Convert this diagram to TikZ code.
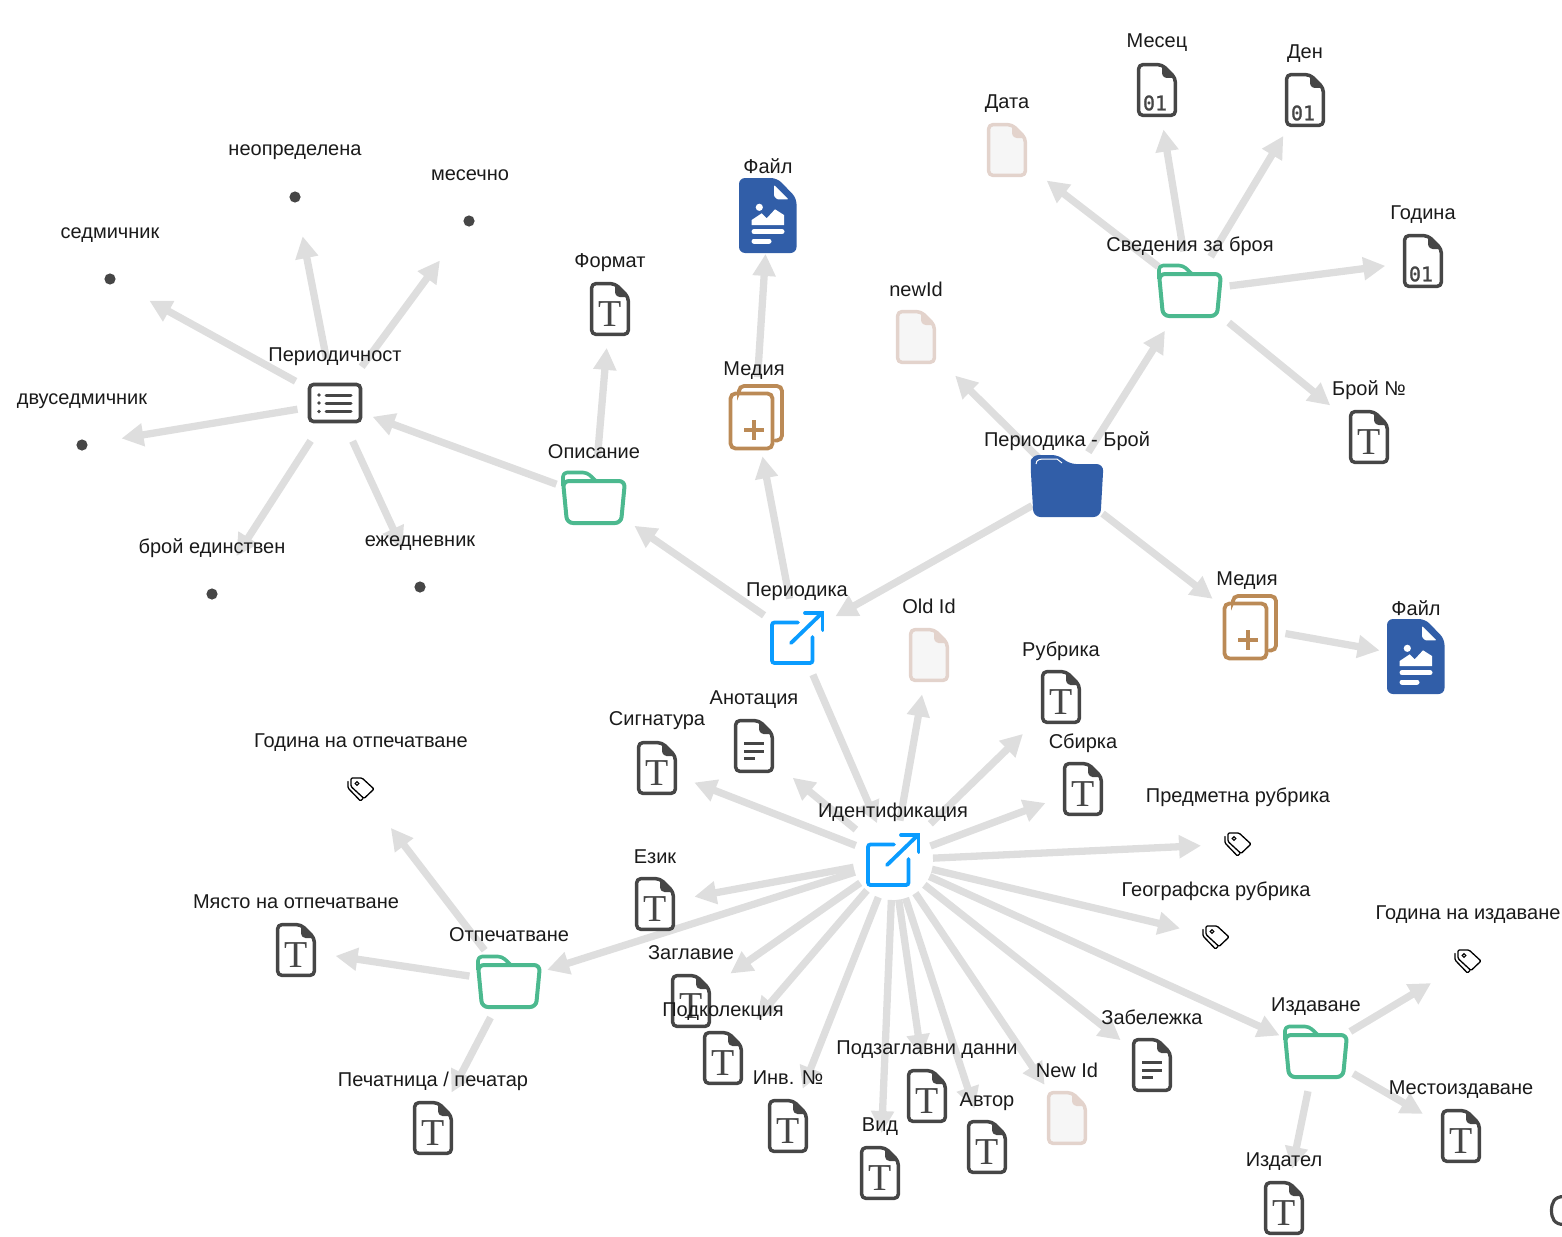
\documentclass[tikz,border=0pt]{standalone}
\usepackage{fontspec}
\setmainfont{Liberation Sans}
\newfontfamily\iconserif{Liberation Serif}
\newfontfamily\iconmono[FakeBold=1.2]{DejaVu Sans Mono}
\usetikzlibrary{arrows.meta}
\pgfdeclarelayer{edges}
\pgfdeclarelayer{labels}
\pgfsetlayers{edges,main,labels}
\definecolor{edgegray}{HTML}{DEDEDE}
\definecolor{icongray}{HTML}{464646}
\definecolor{folgreen}{HTML}{4CB98F}
\definecolor{navy}{HTML}{315EA8}
\definecolor{skyblue}{HTML}{0A9CFF}
\definecolor{tan}{HTML}{BB8A56}
\definecolor{pale}{HTML}{E3D3CC}
\definecolor{palefill}{HTML}{F6F6F6}
\definecolor{labelink}{HTML}{1A1A1A}
\tikzset{
  hub/.style={circle,inner sep=0pt,outer sep=0pt,minimum size=80pt},
  lab/.style={inner sep=0pt,outer sep=0pt,text=labelink,font=\fontsize{20}{24}\selectfont,text height=15.5pt,text depth=0.5pt},
  edge/.style={draw=edgegray,line width=7.3pt,-{Triangle[length=22pt,width=22pt]}},
  docshape/.style={rounded corners=4pt,line width=3.5pt,line join=round},
  docoutline/.pic={
    \draw[docshape,draw=icongray] (-18.3,-25.3) -- (5,-25.3) -- (18.3,-12) -- (18.3,25.3) -- (-18.3,25.3) -- cycle;
    \fill[icongray,rounded corners=1.5pt] (5,-26) -- (19.5,-12) -- (8,-12) -- (5,-15) -- cycle;
  },
  tdoc/.pic={
    \pic {docoutline};
    \node[inner sep=0pt,text=icongray,font=\iconserif\fontsize{38}{38}\selectfont] at (0,5.5) {T};
  },
  numdoc/.pic={
    \pic {docoutline};
    \node[inner sep=0pt,text=icongray,font=\iconmono\fontsize{20}{20}\selectfont] at (-2,13) {01};
  },
  linedoc/.pic={
    \pic {docoutline};
    \draw[icongray,line width=3pt] (-10,-3) -- (10,-3) (-10,5) -- (10,5) (-10,12) -- (1,12);
  },
  paledoc/.pic={
    \draw[docshape,draw=pale,fill=palefill] (-18.3,-25.3) -- (5,-25.3) -- (18.3,-12) -- (18.3,25.3) -- (-18.3,25.3) -- cycle;
    \fill[pale,rounded corners=1.5pt] (5,-26) -- (19.5,-12) -- (8,-12) -- (5,-15) -- cycle;
  },
  filedoc/.pic={
    \fill[navy,rounded corners=6pt] (-29,-38) -- (9,-38) -- (28.5,-18) -- (28.5,37) -- (-29,37) -- cycle;
    \fill[white,rounded corners=1pt] (6,-31) -- (20.5,-16.7) -- (9,-16.7) -- (6,-20) -- cycle;
    \fill[white] (-8.7,-8.7) circle (3.6);
    \fill[white,line join=round] (-16.3,9) -- (-16.3,4) -- (-6.3,-2.7) -- (-1.3,2.3) -- (7,-6.7) -- (16,-1) -- (16,9) -- cycle;
    \draw[white,line width=5pt,line cap=round] (-14,15.7) -- (14,15.7) (-14,25) -- (1,25);
  },
  greenfolder/.pic={
    \draw[folgreen,line width=4pt,rounded corners=6pt,line join=round] (-31,-17) -- (31,-17) -- (27,25) -- (-27,25) -- cycle;
    \draw[folgreen,line width=3.6pt,rounded corners=4pt,line join=round] (-31,-12) -- (-31,-25.5) -- (-7,-25.5) -- (2,-17);
  },
  navyfolder/.pic={
    \fill[navy,rounded corners=7pt] (-36.5,-21) -- (-35.5,-31) -- (-8,-31) -- (2,-22) -- (36.5,-22) -- (33.5,31) -- (-33.5,31) -- cycle;
    \draw[white,line width=1pt] (-31,-22) .. controls (-31,-27) and (-26,-27) .. (-22,-27) -- (-10,-27) -- (-5,-23);
  },
  openlink/.pic={
    \draw[skyblue,line width=3.8pt,rounded corners=2.5pt,line cap=round] (1,-15.5) -- (-25,-15.5) -- (-25,25) -- (15.5,25) -- (15.5,-1);
    \draw[skyblue,line width=3.8pt,line cap=round] (-6,5) -- (25,-25);
    \draw[skyblue,line width=3.8pt,line cap=round,line join=miter] (8,-25) -- (25.5,-25) -- (25.5,-8);
  },
  mediastack/.pic={
    \draw[tan,line width=3.8pt,rounded corners=5pt,line cap=round] (-16,-27) -- (-16,-31) -- (27,-31) -- (27,23.5) -- (20,23.5);
    \draw[tan,line width=3.8pt,rounded corners=5pt] (-24.5,-23.5) -- (17.5,-23.5) -- (17.5,31.5) -- (-24.5,31.5) -- cycle;
    \draw[tan,line width=3.6pt] (-11,13) -- (9,13) (-1,3) -- (-1,23);
  },
  listicon/.pic={
    \draw[icongray,line width=3.6pt,rounded corners=4pt] (-25.5,-18.5) rectangle (25.5,18.5);
    \foreach \yy in {-8,0,8.5} {
      \fill[icongray] (-16,\yy) circle (1.9);
      \draw[icongray,line width=3pt,line cap=round] (-9,\yy) -- (16,\yy);
    }
  },
  tagicon/.pic={
    \draw[black,line width=1.3pt,rounded corners=1.2pt,line join=round] (-10,-11) -- (1,-11) -- (13,0) -- (3,9.5) -- (-10,-2.5) -- cycle;
    \draw[black,line width=1.3pt,rounded corners=1.2pt,line cap=round] (-13,-7.5) -- (-13,-1) -- (-0.5,12) -- (2,9.5);
    \draw[black,line width=1.1pt] (-4,-5.5) circle (1.8);
  },
  dotmark/.pic={\fill[icongray] (0,0) circle (5.6);},
}
\newcommand{\vnode}[8][]{%
  \node[hub,#1] (#2) at (#3,#4) {};
  \pic at (#2.center) {#5};
  \begin{pgfonlayer}{labels}
    \node[lab] (#2-lab) at (#6,#7) {#8};
  \end{pgfonlayer}
}
\newcommand{\arr}[3][]{\draw[edge,#1] (#2) -- (#3);}
\begin{document}
\begin{tikzpicture}[x=1pt,y=-1pt]
\useasboundingbox (0,0) rectangle (1562,1236);
\begin{scope}
\clip (0,0) rectangle (1562,1236);
% top left cluster
\vnode{periodicity}{335}{403}{listicon}{335}{354}{Периодичност}
\vnode{undefinedp}{295}{197}{dotmark}{295}{148}{неопределена}
\vnode[minimum size=98pt]{monthly}{469}{221}{dotmark}{470}{173}{месечно}
\vnode[minimum size=90pt]{weekly}{110}{279}{dotmark}{110}{231}{седмичник}
\vnode{biweekly}{82}{445}{dotmark}{82}{397}{двуседмичник}
\vnode[minimum size=90pt]{single}{212}{594}{dotmark}{212}{546}{брой единствен}
\vnode[minimum size=84pt]{daily}{420}{587}{dotmark}{420}{539}{ежедневник}
\vnode{descr}{594}{498}{greenfolder}{594}{451}{Описание}
\vnode{format}{610}{309}{tdoc}{610}{260}{Формат}
\vnode{file}{768}{216}{filedoc}{768}{166}{Файл}
\vnode{media}{755}{417}{mediastack}{754}{368}{Медия}
\vnode{period}{797}{638}{openlink}{797}{589}{Периодика}
\vnode{issue}{1067}{486}{navyfolder}{1067}{439}{Периодика - Брой}
\vnode{newid}{916}{337}{paledoc}{916}{289}{newId}
\vnode{info}{1190}{291}{greenfolder}{1190}{244}{Сведения за броя}
\vnode{date}{1007}{150}{paledoc}{1007}{101}{Дата}
\vnode{month}{1157}{90}{numdoc}{1157}{40}{Месец}
\vnode{day}{1305}{100}{numdoc}{1305}{51}{Ден}
\vnode{year}{1423}{261}{numdoc}{1423}{212}{Година}
\vnode{issueno}{1369}{437}{tdoc}{1369}{388}{Брой №}
\vnode{mediab}{1249}{627}{mediastack}{1247}{578}{Медия}
\vnode{fileb}{1416}{657}{filedoc}{1416}{608}{Файл}
% identification cluster
\vnode{ident}{893}{860}{openlink}{893}{810}{Идентификация}
\vnode{oldid}{929}{655}{paledoc}{929}{606}{Old Id}
\vnode{rubric}{1061}{697}{tdoc}{1061}{649}{Рубрика}
\vnode{collection}{1083}{789}{tdoc}{1083}{741}{Сбирка}
\vnode{annot}{754}{746}{linedoc}{754}{697}{Анотация}
\vnode{signature}{657}{768}{tdoc}{657}{718}{Сигнатура}
\vnode{subject}{1238}{844}{tagicon}{1238}{795}{Предметна рубрика}
\vnode{geo}{1216}{937}{tagicon}{1216}{889}{Географска рубрика}
\vnode{language}{655}{904}{tdoc}{655}{856}{Език}
\vnode{title}{691}{1001}{tdoc}{691}{952}{Заглавие}
\vnode{subcoll}{723}{1058}{tdoc}{723}{1009}{Подколекция}
\vnode{inv}{788}{1126}{tdoc}{788}{1077}{Инв. №}
\vnode{subtitle}{927}{1096}{tdoc}{927}{1047}{Подзаглавни данни}
\vnode{kind}{880}{1173}{tdoc}{880}{1124}{Вид}
\vnode{author}{987}{1147}{tdoc}{987}{1099}{Автор}
\vnode{newidb}{1067}{1118}{paledoc}{1067}{1070}{New Id}
\vnode{note}{1152}{1065}{linedoc}{1152}{1017}{Забележка}
% publishing
\vnode{publ}{1316}{1052}{greenfolder}{1316}{1004}{Издаване}
\vnode{pubyear}{1468}{961}{tagicon}{1468}{912}{Година на издаване}
\vnode{pubplace}{1461}{1136}{tdoc}{1461}{1087}{Местоиздаване}
\vnode{publisher}{1284}{1208}{tdoc}{1284}{1159}{Издател}
% printing
\vnode{print}{509}{982}{greenfolder}{509}{934}{Отпечатване}
\vnode{printyear}{361}{789}{tagicon}{361}{740}{Година на отпечатване}
\vnode{printplace}{296}{950}{tdoc}{296}{901}{Място на отпечатване}
\vnode{printer}{433}{1128}{tdoc}{433}{1079}{Печатница / печатар}
\begin{pgfonlayer}{edges}
\arr[shorten <=5pt]{periodicity}{undefinedp}
\arr[shorten <=5pt]{periodicity}{monthly}
\arr[shorten <=5pt]{periodicity}{weekly}
\arr[shorten <=-2pt]{periodicity}{biweekly}
\arr[shorten <=5pt]{periodicity}{single}
\arr[shorten <=2pt]{periodicity}{daily}
\arr{descr}{periodicity}
\arr[shorten >=-1pt]{descr}{format}
\arr[shorten >=9pt]{period}{descr}
\arr{period}{media}
\arr[shorten >=-2pt]{media}{file}
\arr[shorten >=4pt]{issue}{period}
\arr[shorten >=15pt]{issue}{newid}
\arr[shorten >=7pt]{issue}{info}
\arr[shorten <=5pt,shorten >=6pt]{issue}{mediab}
\arr[shorten <=-3pt,shorten >=-3pt]{mediab}{fileb}
\arr[shorten >=10pt]{info}{date}
\arr{info}{month}
\arr[shorten >=2pt]{info}{day}
\arr[shorten >=-2pt]{info}{year}
\arr[shorten <=10pt,shorten >=10pt]{info}{issueno}
\arr{period}{ident}
\arr{ident}{oldid}
\arr[shorten <=12pt,shorten >=13pt]{ident}{rubric}
\arr{ident}{collection}
\arr[shorten <=8pt,shorten >=10pt]{ident}{annot}
\arr{ident}{signature}
\arr[shorten >=-3pt]{ident}{subject}
\arr[shorten >=-3pt]{ident}{geo}
\arr{ident}{language}
\arr[shorten >=8pt]{ident}{title}
\arr[shorten >=11pt]{ident}{subcoll}
\arr{ident}{inv}
\arr{ident}{subtitle}
\arr{ident}{kind}
\arr{ident}{author}
\arr{ident}{newidb}
\arr{ident}{note}
\arr{ident}{publ}
\arr[shorten >=3pt]{publ}{pubyear}
\arr[shorten <=3pt,shorten >=4pt]{publ}{pubplace}
\arr{publ}{publisher}
\arr[shorten >=9pt]{print}{printyear}
\arr{print}{printplace}
\arr{print}{printer}
\arr{ident}{print}
\end{pgfonlayer}
% partially cut-off icon at the right edge
\draw[icongray,line width=3.2pt] (1564,1196.5) .. controls (1554,1196.5) and (1551.5,1203) .. (1551.5,1210.5) .. controls (1551.5,1218) and (1554,1224.5) .. (1564,1224.5);
\end{scope}
\end{tikzpicture}
\end{document}
